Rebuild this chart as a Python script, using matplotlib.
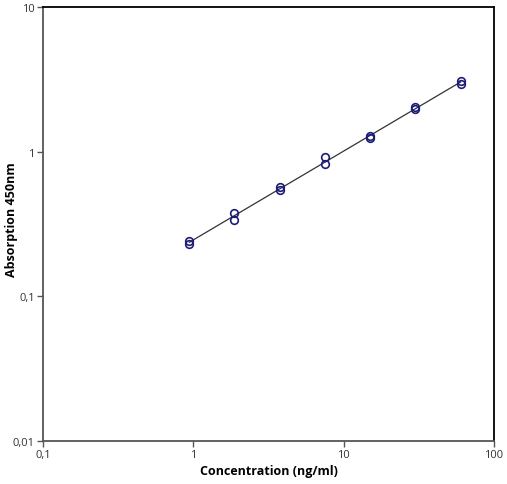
import numpy as np
import matplotlib
matplotlib.use("Agg")
import matplotlib.pyplot as plt
from matplotlib.ticker import FixedLocator, FixedFormatter, NullLocator

conc = [0.94, 0.94, 1.875, 1.875, 3.75, 3.75, 7.5, 7.5, 15, 15, 30, 30, 60, 60]
absorb = [0.242, 0.231, 0.378, 0.338, 0.57, 0.54, 0.92, 0.82, 1.28, 1.24, 2.03, 1.98, 3.10, 2.94]
xticks = [0.1, 1, 10, 100]
xticklabels = ["0,1", "1", "10", "100"]
yticks = [0.01, 0.1, 1, 10]
yticklabels = ["0,01", "0,1", "1", "10"]

plt.rcParams['font.family'] = ['Open Sans', 'DejaVu Sans']

fig = plt.figure(figsize=(5.07, 4.85), dpi=100)
ax = fig.add_axes([43/507, 1-442/485, (494-43)/507, (442-8)/485])
ax.set_xscale('log')
ax.set_yscale('log')
ax.set_xlim(0.1, 100)
ax.set_ylim(0.01, 10)

lx = np.log10(conc)
ly = np.log10(absorb)
p = np.polyfit(lx, ly, 1)
xl = np.array([min(conc), max(conc)])
ax.plot(xl, 10**np.polyval(p, np.log10(xl)), color='#333333', lw=0.9, zorder=2)
ax.plot(conc, absorb, linestyle='none', marker='o', markersize=5.5,
        markerfacecolor='none', markeredgecolor='#1c1c7a', markeredgewidth=1.2, zorder=3)

ax.xaxis.set_major_locator(FixedLocator(xticks))
ax.xaxis.set_major_formatter(FixedFormatter(xticklabels))
ax.yaxis.set_major_locator(FixedLocator(yticks))
ax.yaxis.set_major_formatter(FixedFormatter(yticklabels))
ax.xaxis.set_minor_locator(NullLocator())
ax.yaxis.set_minor_locator(NullLocator())
ax.tick_params(axis='both', which='major', direction='out', length=4, width=1,
               color='#555555', labelsize=8, labelcolor='#333333', pad=2)

for s in ['left', 'bottom']:
    ax.spines[s].set_color('#555555')
    ax.spines[s].set_linewidth(1.3)
for s in ['top', 'right']:
    ax.spines[s].set_color('#000000')
    ax.spines[s].set_linewidth(1.3)

ax.set_xlabel('Concentration (ng/ml)', fontsize=9, fontweight='bold', labelpad=3)
ax.set_ylabel('Absorption 450nm', fontsize=9, fontweight='bold')
ax.yaxis.set_label_coords((12-43)/451, (442-220)/434)
ax.yaxis.label.set_verticalalignment('center')

fig.savefig('out.png', dpi=100)
